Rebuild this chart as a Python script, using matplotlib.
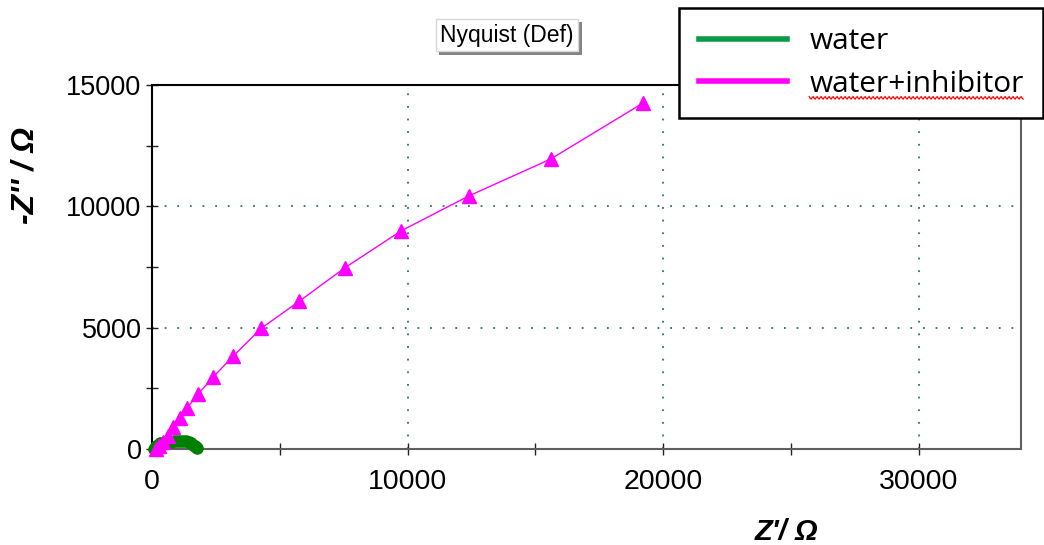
import numpy as np
import matplotlib
matplotlib.use("Agg")
import matplotlib.pyplot as plt
import matplotlib.patheffects as pe
from matplotlib.lines import Line2D
from matplotlib.ticker import MultipleLocator

# Nyquist data (Z' , -Z'') in ohm
water_zre = [60, 100, 150, 220, 300, 400, 510, 630, 750, 870, 990, 1100, 1210, 1320, 1430, 1530, 1620, 1690, 1740, 1770]
water_zim = [10, 60, 120, 180, 230, 265, 285, 295, 300, 315, 330, 340, 335, 315, 285, 240, 185, 125, 70, 25]

inh_zre = [150, 270, 430, 630, 820, 1100, 1370, 1800, 2390, 3170, 4270, 5750, 7550, 9750, 12400, 15600, 19200]
inh_zim = [0, 120, 290, 530, 900, 1270, 1680, 2260, 2960, 3820, 4970, 6080, 7470, 8990, 10430, 11950, 14250]

series_labels = ["water", "water+inhibitor"]
legend_colors = ["#0b9a48", "#ff00ff"]

W, H = 1044, 545
fig = plt.figure(figsize=(W / 100, H / 100), dpi=100)
ax = fig.add_axes([152 / W, 1 - 449 / H, (1021 - 152) / W, (449 - 85) / H])

ax.plot(water_zre, water_zim, color="#008000", marker="o", markersize=8, lw=1,
        clip_on=False, zorder=3)
ax.plot(inh_zre, inh_zim, color="#ff00ff", marker="^", markersize=10, lw=1,
        clip_on=False, zorder=4)

ax.set_xlim(0, 34000)
ax.set_ylim(0, 15000)
ax.xaxis.set_major_locator(MultipleLocator(10000))
ax.xaxis.set_minor_locator(MultipleLocator(5000))
ax.yaxis.set_major_locator(MultipleLocator(5000))
ax.yaxis.set_minor_locator(MultipleLocator(2500))
ax.tick_params(which="both", direction="inout", length=9, width=1, color="#222222")
ax.tick_params(axis="x", which="major", pad=10, labelsize=20.5)
ax.tick_params(axis="y", which="major", pad=3, labelsize=19.5)
for lab in ax.get_xticklabels():
    lab.set_family(["Liberation Sans Narrow", "Liberation Sans"])
for lab in ax.get_yticklabels():
    lab.set_family(["Liberation Sans"])

ax.grid(True, which="major", color="#2f7070", lw=1.3, linestyle=(0, (1, 6)))
ax.spines["top"].set_color("black")
ax.spines["left"].set_color("black")
ax.spines["bottom"].set_color("#606060")
ax.spines["right"].set_color("#606060")
for s in ax.spines.values():
    s.set_linewidth(1.5)

fig.text(25 / W, 1 - 175 / H, "-Z'' / \u03a9", rotation=90, ha="center", va="center",
         fontsize=23, fontweight="bold", fontstyle="italic", family="Liberation Sans")
fig.text(786 / W, 1 - 532 / H, "Z'/ \u03a9", ha="center", va="center",
         fontsize=21, fontweight="bold", fontstyle="italic", family="Liberation Sans")

title = fig.text(507 / W, 1 - 35 / H, "Nyquist (Def)", ha="center", va="center",
                 fontsize=16.5, family="Liberation Sans",
                 bbox=dict(boxstyle="square,pad=0.2", fc="white", ec="#d8d8d8", lw=1))
title.get_bbox_patch().set_path_effects(
    [pe.withSimplePatchShadow(offset=(2.5, -2.5), shadow_rgbFace="#777777", alpha=0.9)])

handles = [Line2D([], [], color=c, lw=4) for c in legend_colors]
leg = fig.legend(handles, series_labels, loc="upper right",
                 bbox_to_anchor=(1043 / W, 1 - 8 / H),
                 prop={"family": "Open Sans", "size": 21.5},
                 handlelength=2.95, handletextpad=0.75, labelspacing=0.45,
                 borderpad=0.65, borderaxespad=0, fancybox=False, framealpha=1)
leg.get_frame().set_edgecolor("black")
leg.get_frame().set_linewidth(1.8)

# red spell-check underline under the second legend label
fig.canvas.draw()
bb = leg.get_texts()[1].get_window_extent()
xs = np.arange(bb.x0, bb.x1, 1.0)
ys = bb.y0 + 1 + 1.3 * np.sin(xs * np.pi / 2)
fig.add_artist(Line2D(xs / W, ys / H, color="red", lw=0.9, zorder=10,
                      transform=fig.transFigure))

fig.savefig("out.png", dpi=100)
